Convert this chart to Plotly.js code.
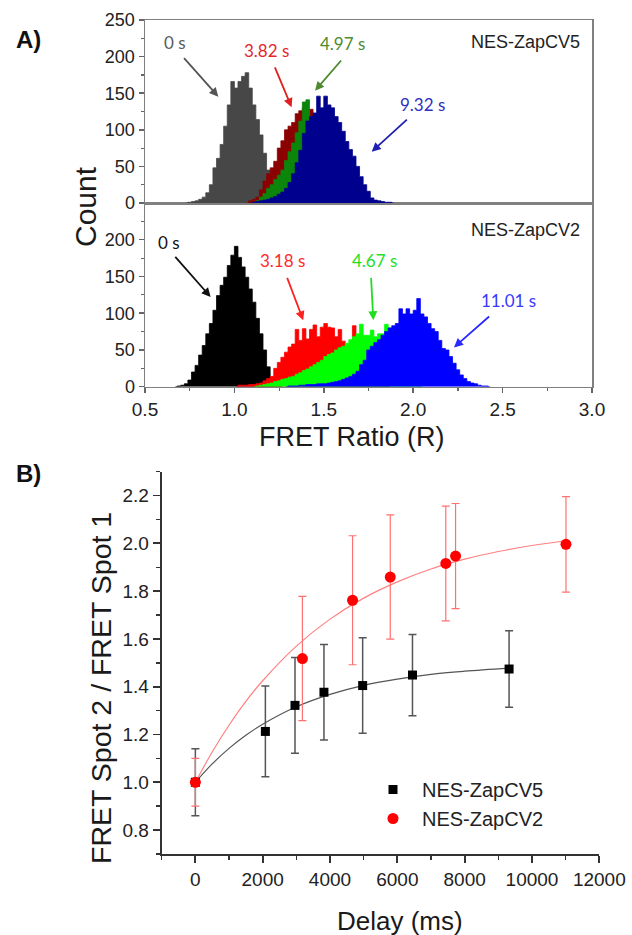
<!DOCTYPE html>
<html><head><meta charset="utf-8">
<script src="https://cdn.plot.ly/plotly-3.0.1.min.js"></script>
<style>html,body{margin:0;padding:0;background:#fff}#chart{width:632px;height:935px}</style>
</head><body><div id="chart"></div>
<script>
// ---------- Panel A data (FRET ratio histograms, bin centres every 0.02) ----------
const binWidth = 0.02;
// NES-ZapCV5 (top)
const cv5_0s_start = 0.73;
const cv5_0s = [0,1,2,3,5,8,14,25,48,61,80,105,134,166,157,166,173,178,157,134,114,93,68,45,28,15,6,2,0];
const cv5_382_start = 1.07;
const cv5_382 = [0,3,5,8,18,30,40,48,57,75,85,100,105,110,122,126,130,128,128,120,110,95,80,60,45,30,18,10,5,2,0];
const cv5_497_start = 1.11;
const cv5_497 = [0,3,8,13,20,25,32,38,45,58,70,82,96,112,138,141,118,110,100,85,68,50,35,22,12,6,3,0];
const cv5_932_start = 1.09;
const cv5_932 = [0,1,2,3,4,5,7,9,12,15,20,28,40,55,72,95,112,118,123,146,130,146,134,130,118,110,98,84,73,64,50,36,25,16,7,4,3,2,1,1,0];
// NES-ZapCV2 (bottom)
const cv2_0s_start = 0.67;
const cv2_0s = [0,1,2,4,9,20,29,43,56,72,86,104,124,138,149,165,179,191,176,163,149,133,115,93,72,50,27,13,6,2,0];
const cv2_318_start = 1.01;
const cv2_318 = [0,2,2,2,3,3,4,5,8,11,14,25,33,40,47,54,58,78,63,79,65,78,84,68,81,86,81,80,68,78,62,56,57,83,68,50,40,30,20,12,6,3,1,0];
const cv2_467_start = 1.11;
const cv2_467 = [0,1,2,3,4,5,7,8,10,11,13,14,17,19,22,24,27,30,33,36,41,44,46,50,53,55,59,64,68,72,85,70,70,77,68,72,72,85,80,60,45,30,18,10,5,3,1,0];
const cv2_1101_start = 1.29;
const cv2_1101 = [0,1,1,1,2,2,3,3,3,4,4,4,5,6,7,8,10,12,14,17,21,30,36,50,55,60,64,70,75,80,83,86,106,99,106,99,104,120,99,95,86,79,75,63,52,50,41,32,23,16,11,7,5,4,2,1,1,0];

// ---------- Panel B data ----------
const delayCV5 = [0, 2080, 2960, 3820, 4970, 6450, 9320];
const ratioCV5 = [1.0, 1.213, 1.322, 1.377, 1.405, 1.449, 1.474];
const errCV5   = [0.14, 0.19, 0.20, 0.20, 0.20, 0.17, 0.16];
const delayCV2 = [0, 3180, 4670, 5790, 7440, 7730, 11010];
const ratioCV2 = [1.0, 1.518, 1.762, 1.859, 1.916, 1.947, 1.996];
const errCV2   = [0.10, 0.26, 0.27, 0.26, 0.24, 0.22, 0.20];
// fitted curves
const fitCV5x = [0, 500, 1000, 1500, 2000, 3000, 4000, 5000, 6000, 7000, 8000, 9320];
const fitCV5y = [1.0, 1.077, 1.142, 1.197, 1.243, 1.316, 1.368, 1.406, 1.432, 1.452, 1.465, 1.478];
const fitCV2x = [0, 500, 1000, 1500, 2000, 3000, 4000, 5000, 6000, 7000, 8000, 9000, 10000, 11010];
const fitCV2y = [1.0, 1.127, 1.239, 1.339, 1.425, 1.570, 1.683, 1.771, 1.839, 1.893, 1.934, 1.966, 1.991, 2.011];
const delayTicks = [0, 2000, 4000, 6000, 8000, 10000, 12000];

const FONT = 'Arial, "Liberation Sans", sans-serif';
const LBL = 'Lato, Carlito, Calibri, sans-serif';

// step-filled histogram: each value sits on its bin centre, steps change half-way between centres
function hist(start, counts, color, xa, ya) {
  return {type:'scatter', mode:'lines', x0:start, dx:binWidth, y:counts,
    line:{shape:'hvh', color:color, width:0.8}, fill:'tozeroy', fillcolor:color,
    xaxis:xa, yaxis:ya, showlegend:false, hoverinfo:'skip'};
}

const traces = [
  hist(cv5_0s_start, cv5_0s, '#474747', 'x2', 'y2'),
  hist(cv5_382_start, cv5_382, '#8b0000', 'x2', 'y2'),
  hist(cv5_497_start, cv5_497, '#0b860b', 'x2', 'y2'),
  hist(cv5_932_start, cv5_932, '#00008f', 'x2', 'y2'),
  hist(cv2_0s_start, cv2_0s, '#000000', 'x', 'y'),
  hist(cv2_318_start, cv2_318, '#ff0000', 'x', 'y'),
  hist(cv2_467_start, cv2_467, '#00ff00', 'x', 'y'),
  hist(cv2_1101_start, cv2_1101, '#0000ff', 'x', 'y'),
  {type:'scatter', mode:'lines', x:fitCV5x, y:fitCV5y, line:{color:'#555', width:1.2, shape:'spline'},
   xaxis:'x3', yaxis:'y3', showlegend:false, hoverinfo:'skip'},
  {type:'scatter', mode:'lines', x:fitCV2x, y:fitCV2y, line:{color:'#ff8080', width:1.2, shape:'spline'},
   xaxis:'x3', yaxis:'y3', showlegend:false, hoverinfo:'skip'},
  {type:'scatter', mode:'markers', name:'NES-ZapCV5', x:delayCV5, y:ratioCV5,
   marker:{symbol:'square', size:9, color:'#000'},
   error_y:{type:'data', array:errCV5, visible:true, color:'#555', thickness:1.5, width:4},
   xaxis:'x3', yaxis:'y3'},
  {type:'scatter', mode:'markers', name:'NES-ZapCV2', x:delayCV2, y:ratioCV2,
   marker:{symbol:'circle', size:11, color:'#ff0000'},
   error_y:{type:'data', array:errCV2, visible:true, color:'#ff7070', thickness:1.2, width:4},
   xaxis:'x3', yaxis:'y3'}
];

const xDomA = [145/632, 592/632];
const yDomBot = [1-386.7/935, 1-203/935];
const yDomTop = [1-203/935, 1-20/935];
const frameA = {showline:true, linecolor:'#808080', linewidth:1.5, mirror:true, zeroline:false, showgrid:false};

function arrow(xr, yr, hx, hy, tx, ty, color) {
  return {xref:xr, yref:yr, axref:xr, ayref:yr, x:hx, y:hy, ax:tx, ay:ty, text:'', showarrow:true,
    arrowhead:2, arrowsize:1, arrowwidth:1.8, arrowcolor:color, standoff:0, startstandoff:0};
}
function label(xr, yr, x, y, text, color, anchor) {
  return {xref:xr, yref:yr, x:x, y:y, text:text, showarrow:false, xanchor:anchor||'center', yanchor:'middle',
    font:{family:LBL, size:17, color:color}};
}

const annotations = [
  // top panel
  label('x2','y2', 0.668, 218.6, '0 s', '#5a5a5a'),
  arrow('x2','y2', 0.91, 145.2, 0.711, 199.9, '#555'),
  label('x2','y2', 1.181, 207.7, '3.82 s', '#e3262e'),
  arrow('x2','y2', 1.32, 130.7, 1.223, 187.2, '#e02020'),
  label('x2','y2', 1.605, 217.9, '4.97 s', '#4f8a30'),
  arrow('x2','y2', 1.451, 153.4, 1.604, 196.7, '#4f8a30'),
  label('x2','y2', 2.052, 135.2, '9.32 s', '#2f2fc0'),
  arrow('x2','y2', 1.768, 70.1, 1.973, 115.7, '#2020b0'),
  {xref:'x2', yref:'y2', x:2.944, y:220, text:'NES-ZapCV5', showarrow:false, xanchor:'right', yanchor:'middle',
   font:{family:FONT, size:18, color:'#222'}},
  // bottom panel
  label('x','y', 0.634, 196.7, '0 s', '#111'),
  arrow('x','y', 0.867, 122.1, 0.662, 178.7, '#111'),
  label('x','y', 1.269, 171.9, '3.18 s', '#ff2a2a'),
  arrow('x','y', 1.385, 90.5, 1.292, 150.2, '#ff2020'),
  label('x','y', 1.782, 171.9, '4.67 s', '#22e022'),
  arrow('x','y', 1.777, 90.5, 1.764, 150.2, '#22dd22'),
  label('x','y', 2.532, 117.6, '11.01 s', '#3838ff'),
  arrow('x','y', 2.228, 53.5, 2.433, 97.3, '#2a2aff'),
  {xref:'x', yref:'y', x:2.944, y:212.6, text:'NES-ZapCV2', showarrow:false, xanchor:'right', yanchor:'middle',
   font:{family:FONT, size:18, color:'#222'}},
  // axis titles & panel labels
  {xref:'paper', yref:'paper', x:85/632, y:1-207/935, text:'Count', textangle:-90, showarrow:false,
   xanchor:'center', yanchor:'middle', font:{family:FONT, size:30, color:'#1a1a1a'}},
  {xref:'paper', yref:'paper', x:352/632, y:1-437/935, text:'FRET Ratio (R)', showarrow:false,
   xanchor:'center', yanchor:'middle', font:{family:FONT, size:27, color:'#1a1a1a'}},
  {xref:'paper', yref:'paper', x:101/632, y:1-688/935, text:'FRET Spot 2 / FRET Spot 1', textangle:-90, showarrow:false,
   xanchor:'center', yanchor:'middle', font:{family:FONT, size:28.5, color:'#1a1a1a'}},
  {xref:'paper', yref:'paper', x:400/632, y:1-921/935, text:'Delay (ms)', showarrow:false,
   xanchor:'center', yanchor:'middle', font:{family:FONT, size:26, color:'#1a1a1a'}},
  {xref:'paper', yref:'paper', x:28/632, y:1-40/935, text:'<b>A)</b>', showarrow:false,
   xanchor:'center', yanchor:'middle', font:{family:FONT, size:24, color:'#111'}},
  {xref:'paper', yref:'paper', x:28/632, y:1-473/935, text:'<b>B)</b>', showarrow:false,
   xanchor:'center', yanchor:'middle', font:{family:FONT, size:24, color:'#111'}}
];

const layout = {
  width:632, height:935, margin:{l:0, r:0, t:0, b:0},
  paper_bgcolor:'#fff', plot_bgcolor:'rgba(0,0,0,0)',
  showlegend:true,
  font:{family:FONT, color:'#222'},
  xaxis: Object.assign({}, frameA, {domain:xDomA, anchor:'y', range:[0.5, 3.0], dtick:0.5, tick0:0.5, tickformat:'.1f',
    ticks:'outside', ticklen:5, tickwidth:1.5, tickcolor:'#666',
    minor:{dtick:0.25, ticks:'outside', ticklen:3, tickwidth:1.2, tickcolor:'#666', showgrid:false},
    tickfont:{family:FONT, size:19, color:'#222'}}),
  yaxis: Object.assign({}, frameA, {domain:yDomBot, anchor:'x', range:[0, 250], tickvals:[0,50,100,150,200],
    ticks:'outside', ticklen:5, tickwidth:1.5, tickcolor:'#666',
    minor:{tickvals:[25,75,125,175,225], ticks:'outside', ticklen:3, tickwidth:1.2, tickcolor:'#666', showgrid:false},
    tickfont:{family:FONT, size:18, color:'#222'}}),
  xaxis2: Object.assign({}, frameA, {domain:xDomA, anchor:'y2', range:[0.5, 3.0], showticklabels:false, ticks:''}),
  yaxis2: Object.assign({}, frameA, {domain:yDomTop, anchor:'x2', range:[0, 250], tickvals:[0,50,100,150,200,250],
    ticks:'outside', ticklen:5, tickwidth:1.5, tickcolor:'#666',
    minor:{tickvals:[25,75,125,175,225], ticks:'outside', ticklen:3, tickwidth:1.2, tickcolor:'#666', showgrid:false},
    tickfont:{family:FONT, size:18, color:'#222'}}),
  xaxis3: {domain:[161.7/632, 599.3/632], anchor:'y3', range:[-1000, 12000], tickvals:delayTicks,
    ticktext:delayTicks.map(String),
    showline:true, linecolor:'#333', linewidth:2, mirror:false, zeroline:false, showgrid:false,
    ticks:'outside', ticklen:7, tickwidth:1.8, tickcolor:'#333',
    minor:{dtick:1000, tick0:1000, ticks:'outside', ticklen:4, tickwidth:1.5, tickcolor:'#333', showgrid:false},
    tickfont:{family:FONT, size:19, color:'#222'}},
  yaxis3: {domain:[1-854/935, 1-471.7/935], anchor:'x3', range:[0.7, 2.3], dtick:0.2, tick0:0, tickformat:'.1f',
    showline:true, linecolor:'#333', linewidth:2, mirror:false, zeroline:false, showgrid:false,
    ticks:'outside', ticklen:7, tickwidth:1.8, tickcolor:'#333',
    minor:{dtick:0.1, tick0:0, ticks:'outside', ticklen:4, tickwidth:1.5, tickcolor:'#333', showgrid:false},
    tickfont:{family:FONT, size:19, color:'#222'}},
  legend:{x:364/632, y:1-770/935, xanchor:'left', yanchor:'top', bgcolor:'rgba(0,0,0,0)', borderwidth:0,
    itemwidth:48, font:{family:FONT, size:20, color:'#222'}, tracegroupgap:0},
  annotations: annotations
};

Plotly.newPlot('chart', traces, layout, {staticPlot:true, displayModeBar:false});
</script></body></html>
